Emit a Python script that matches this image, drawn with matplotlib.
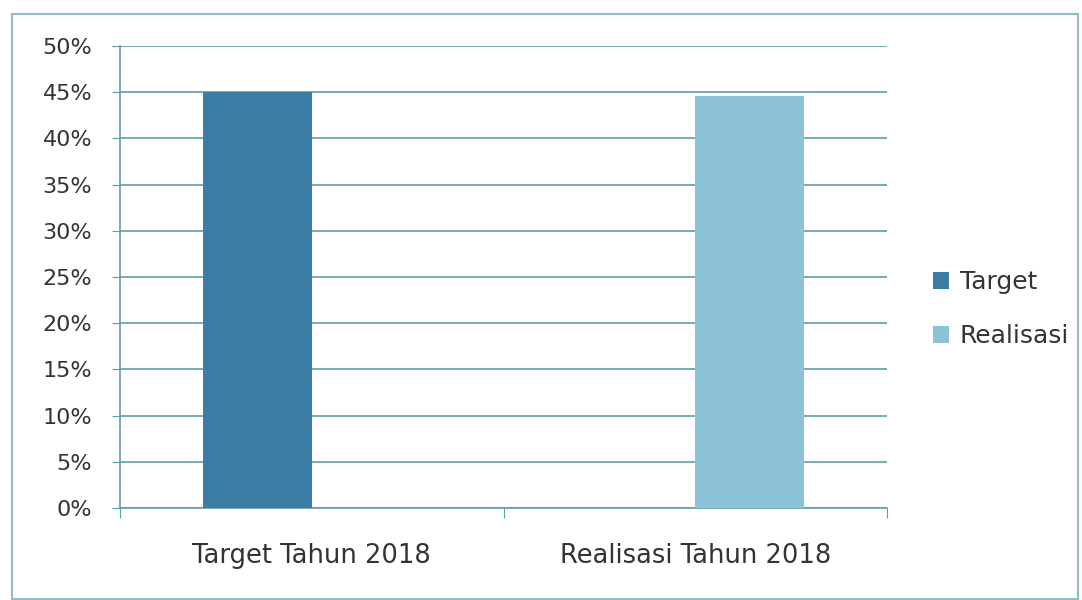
import matplotlib.pyplot as plt
from matplotlib.patches import Rectangle
import numpy as np

plt.rcParams['font.family'] = ['DejaVu Sans']

categories = ['Target Tahun 2018', 'Realisasi Tahun 2018']
target = [45.0, 0.0]
realisasi = [0.0, 44.6]
yticks = [0, 5, 10, 15, 20, 25, 30, 35, 40, 45, 50]

grid_c = '#5f9ea6'
text_c = '#333333'

fig = plt.figure(figsize=(10.82, 6), dpi=100)
ax = fig.add_axes([120/1082, 1-508/600, (887-120)/1082, (508-46)/600])

# outer frame
fig.patches.append(Rectangle((12/1082, 0.002), (1078-12)/1082, 1-14/600-0.002,
                             transform=fig.transFigure, fill=False,
                             edgecolor='#8fbfc4', lw=1.5))

x = np.arange(len(categories))
w = 0.283
ax.bar(x - w/2, target, w, color='#3b7ca4', label='Target', zorder=3)
ax.bar(x + w/2, realisasi, w, color='#8cc2d7', label='Realisasi', zorder=3)

ax.set_xlim(-0.5, 1.5)
ax.set_ylim(0, 50)
ax.set_yticks(yticks)
ax.set_yticklabels([f'{v}%' for v in yticks], fontsize=16, color=text_c)
ax.yaxis.grid(True, color=grid_c, lw=1.2, zorder=0)

ax.set_xticks([-0.5, 0.5, 1.5])
ax.set_xticklabels([])
ax.set_xticks(x, minor=True)
ax.set_xticklabels(categories, minor=True, fontsize=18.5, color=text_c)
ax.tick_params(axis='x', which='minor', length=0, pad=25)
ax.tick_params(axis='x', which='major', length=7, color=grid_c, direction='out')
ax.tick_params(axis='y', length=6, color=grid_c, pad=14)

for s in ['top', 'right']:
    ax.spines[s].set_visible(False)
ax.spines['left'].set_color(grid_c)
ax.spines['bottom'].set_color(grid_c)
ax.spines['left'].set_linewidth(1.2)
ax.spines['bottom'].set_linewidth(1.2)

leg = fig.legend(loc='center left', bbox_to_anchor=(910/1082, 1-309/600),
                 frameon=False, fontsize=18, handlelength=0.65, handleheight=0.65,
                 labelspacing=1.2, handletextpad=0.45)
for t in leg.get_texts():
    t.set_color(text_c)

fig.savefig('out.png', dpi=100)
